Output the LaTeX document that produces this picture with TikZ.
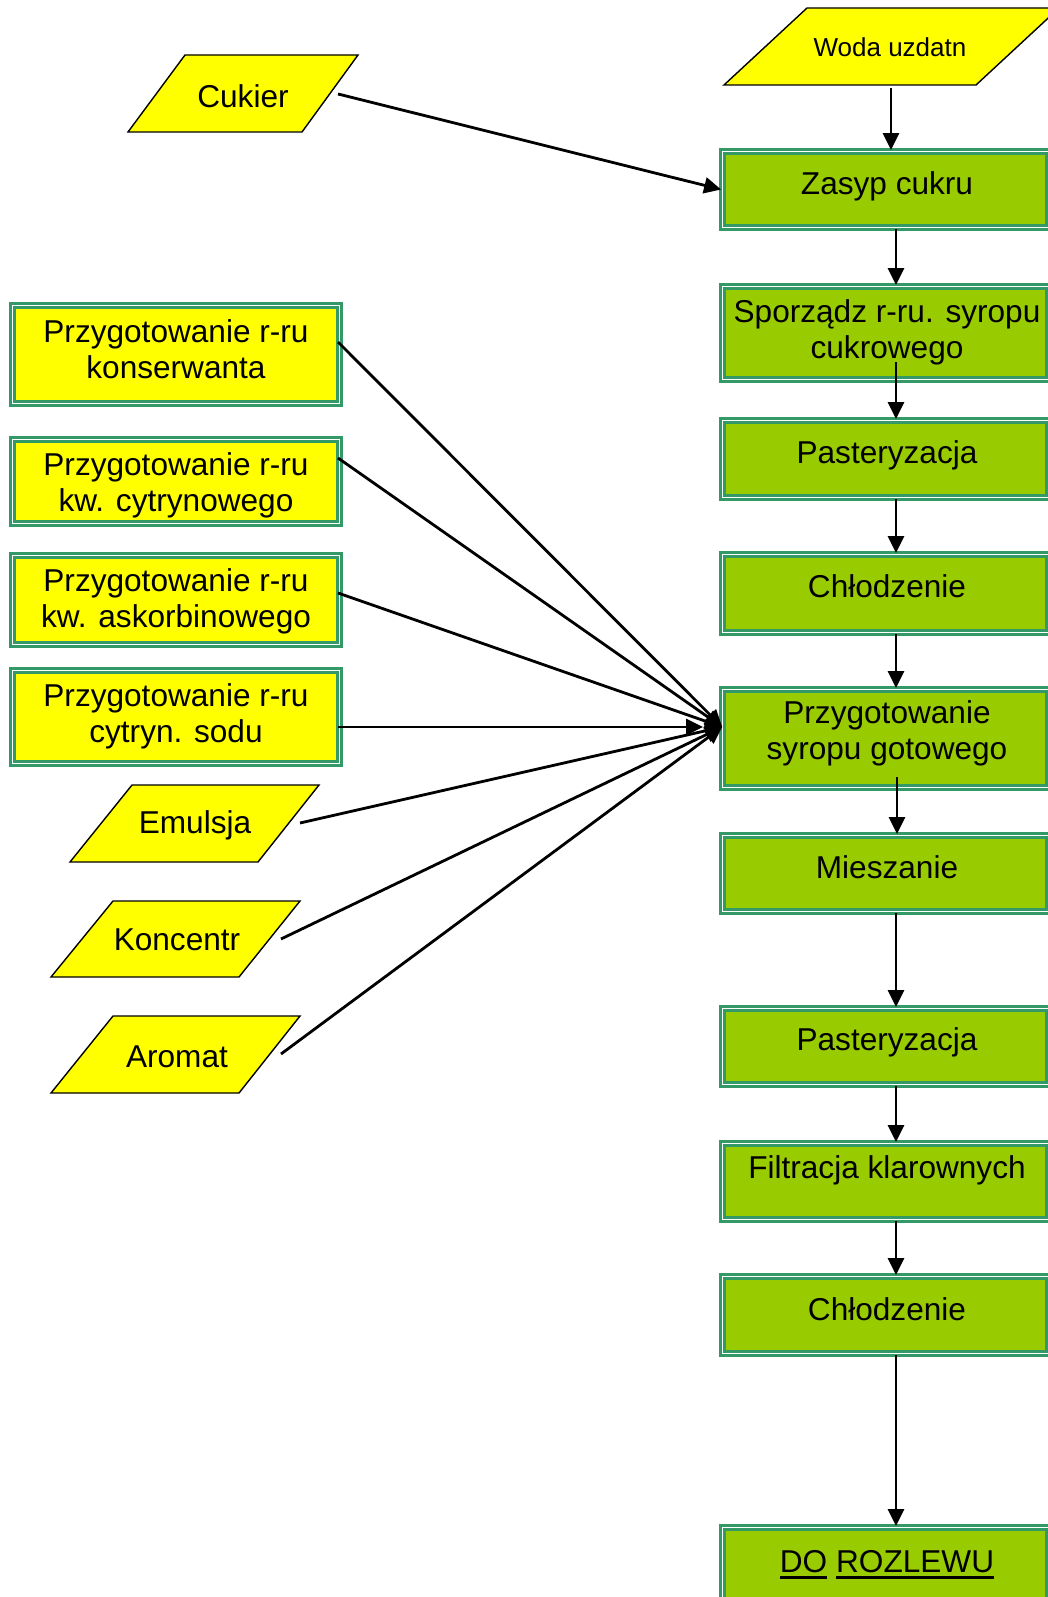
\documentclass[tikz,border=0pt]{standalone}
\usepackage{fontspec}
\setmainfont{Liberation Sans}
\usetikzlibrary{arrows.meta}
\definecolor{sg}{HTML}{339966}
\definecolor{lime}{HTML}{99CC00}
\definecolor{yel}{HTML}{FFFF00}
\newcommand\myul[1]{\setbox0\hbox{#1}\rlap{\rule[-6.5pt]{\wd0}{2.2pt}}\box0\relax}
\newcommand\twol[2]{\begin{tabular}[t]{@{}c@{}}#1\\#2\end{tabular}}
\begin{document}
\begin{tikzpicture}[x=1pt,y=-1pt,
  box/.style={rectangle, draw=sg, line width=2.6pt, double=white, double distance=1.6pt, inner sep=0pt},
  gbox/.style={box, fill=lime, minimum width=326.2pt},
  ybox/.style={box, fill=yel, minimum width=327.2pt},
  para/.style={draw=black, line width=1.4pt, fill=yel, line join=miter},
  txt/.style={inner sep=0pt, anchor=base, font=\fontsize{31.6}{36.3}\selectfont},
  arr/.style={line width=2.8pt, -{Triangle[length=17pt,width=16pt]}}]
\useasboundingbox (0,0) rectangle (1048,1597);

% right column boxes
\node[gbox, minimum height=76.2pt] (zasyp) at (885.5,189.5) {};
\node[gbox, minimum height=93.2pt] (spor)  at (885.5,333) {};
\node[gbox, minimum height=77.2pt] (past1) at (885.5,459) {};
\node[gbox, minimum height=78.2pt] (chl1)  at (885.5,593.5) {};
\node[gbox, minimum height=98.2pt] (przyg) at (885.5,738.5) {};
\node[gbox, minimum height=76.2pt] (mies)  at (885.5,873.5) {};
\node[gbox, minimum height=76.2pt] (past2) at (885.5,1046.5) {};
\node[gbox, minimum height=76.2pt] (filt)  at (885.5,1181.5) {};
\node[gbox, minimum height=77.2pt] (chl2)  at (885.5,1315) {};
\node[gbox, minimum height=76.2pt] (rozl)  at (885.5,1565.5) {};

% left column boxes
\node[ybox, minimum height=98.2pt] (kons)  at (176,354.5) {};
\node[ybox, minimum height=84.2pt] (cytr)  at (176,481.5) {};
\node[ybox, minimum height=89.2pt] (askor) at (176,600) {};
\node[ybox, minimum height=93.2pt] (sodu)  at (176,717) {};

% parallelograms
\draw[para] (724,85) -- (807,8) -- (1059,8) -- (976,85) -- cycle;
\draw[para] (128,132) -- (185,55) -- (358,55) -- (302,132) -- cycle;
\draw[para] (70,862) -- (132,785) -- (319,785) -- (258,862) -- cycle;
\draw[para] (51,977) -- (113,901) -- (300,901) -- (239,977) -- cycle;
\draw[para] (51,1093) -- (113,1016) -- (300,1016) -- (239,1093) -- cycle;

% texts
\node[txt, font=\fontsize{26}{30}\selectfont] (woda) at (890,57) {Woda uzdatn};
\node[txt] (cuk) at (243,108) {Cukier};
\node[txt] (emu) at (195,833) {Emulsja};
\node[txt] (kon) at (177,950) {Koncentr};
\node[txt] (aro) at (177,1067) {Aromat};

\node[txt] (tzasyp) at (887,195) {Zasyp cukru};
\node[txt] (tspor)  at (887,322) {\twol{Sporządz r-ru. syropu}{cukrowego}};
\node[txt] (tpast1) at (887,463) {Pasteryzacja};
\node[txt] (tchl1)  at (887,597) {Chłodzenie};
\node[txt] (tprzyg) at (887,723) {\twol{Przygotowanie}{syropu gotowego}};
\node[txt] (tmies)  at (887,878) {Mieszanie};
\node[txt] (tpast2) at (887,1050) {Pasteryzacja};
\node[txt] (tfilt)  at (887,1178) {Filtracja klarownych};
\node[txt] (tchl2)  at (887,1320) {Chłodzenie};
\node[txt] (trozl)  at (887,1572) {\myul{DO} \myul{ROZLEWU}};

\node[txt] (tkons)  at (176,342) {\twol{Przygotowanie r-ru}{konserwanta}};
\node[txt] (tcytr)  at (176,475) {\twol{Przygotowanie r-ru}{kw. cytrynowego}};
\node[txt] (taskor) at (176,591) {\twol{Przygotowanie r-ru}{kw. askorbinowego}};
\node[txt] (tsodu)  at (176,706) {\twol{Przygotowanie r-ru}{cytryn. sodu}};

% connector coordinates
\coordinate (ax) at (896,0);
\coordinate (wout) at (891,88);
\coordinate (cout) at (338,94);
\coordinate (sin) at (896,362);
\coordinate (pin) at (897,777);
\coordinate (hub) at (722.2,727);
\coordinate (hub2) at (703,727);
\coordinate (ko) at (338,342);
\coordinate (cy) at (338,458);
\coordinate (as) at (338,593);
\coordinate (so) at (338,727);
\coordinate (em) at (300,823);
\coordinate (kc) at (281,939);
\coordinate (ar) at (281,1054);

% main flow
\draw[arr] (wout) -- (wout |- zasyp.north);
\draw[arr] (cout) -- (zasyp.west);
\draw[arr] (ax |- zasyp.south) -- (ax |- spor.north);
\draw[arr] (sin) -- (sin |- past1.north);
\draw[arr] (ax |- past1.south) -- (ax |- chl1.north);
\draw[arr] (ax |- chl1.south) -- (ax |- przyg.north);
\draw[arr] (pin) -- (pin |- mies.north);
\draw[arr] (ax |- mies.south) -- (ax |- past2.north);
\draw[arr] (ax |- past2.south) -- (ax |- filt.north);
\draw[arr] (ax |- filt.south) -- (ax |- chl2.north);
\draw[arr] (ax |- chl2.south) -- (ax |- rozl.north);

% converging inputs
\draw[arr] (ko) -- (hub);
\draw[arr] (cy) -- (hub);
\draw[arr] (as) -- (hub);
\draw[arr] (so) -- (hub2);
\draw[arr] (em) -- (hub);
\draw[arr] (kc) -- (hub);
\draw[arr] (ar) -- (hub);
\end{tikzpicture}
\end{document}
